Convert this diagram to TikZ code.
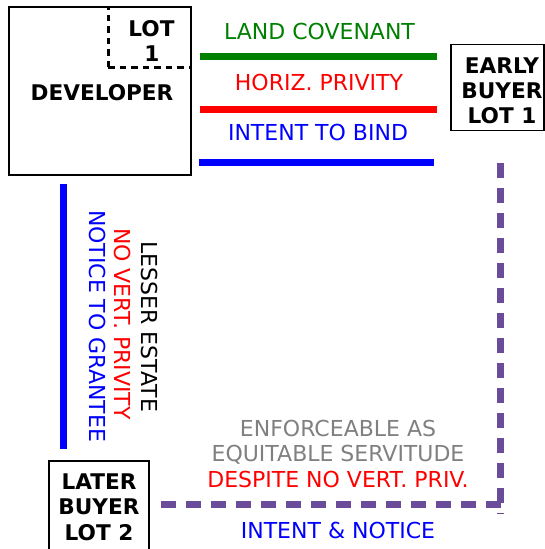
\documentclass[tikz,border=0pt]{standalone}
\usepackage{fontspec}
\setmainfont{DejaVu Sans}
\definecolor{cvgreen}{RGB}{0,128,0}
\definecolor{cvred}{RGB}{255,0,0}
\definecolor{cvblue}{RGB}{0,0,255}
\definecolor{cvgray}{RGB}{128,128,128}
\definecolor{cvpurple}{RGB}{106,76,154}
\begin{document}
\begin{tikzpicture}[x=1pt,y=-1pt,
  txt/.style={inner sep=0pt, text depth=0pt, anchor=center, font=\fontsize{22}{25}\selectfont},
  btxt/.style={txt, font=\fontsize{21.6}{25}\selectfont\bfseries},
  box/.style={draw, line width=1.3pt, inner sep=0pt},
  bar/.style={line width=7pt},
  lotline/.style={line width=3pt, dash pattern=on 6.5pt off 5pt},
  purpledash/.style={draw=cvpurple, line width=7pt, dash pattern=on 15pt off 10pt}]
\useasboundingbox (0,0) rectangle (545,549);
% boxes
\node[box, minimum width=182pt, minimum height=168pt] (dev) at (100,91) {};
\node[box, minimum width=93pt, minimum height=86pt] (early) at (497.5,87.5) {};
\node[box, minimum width=100pt, minimum height=96pt] (later) at (99,509) {};
% lot 1 inside developer
\coordinate (lotc) at (108,67);
\draw[lotline] (lotc) -- (dev.north -| lotc);
\draw[lotline] (lotc) -- (dev.east |- lotc);
\node[btxt] (lota) at (151.5,28) {LOT};
\node[btxt] (lotb) at (152,53.5) {1};
\node[btxt] (devlbl) at (102,92) {DEVELOPER};
% early buyer text
\node[btxt] (ea) at (502,66) {EARLY};
\node[btxt] (eb) at (502,90.5) {BUYER};
\node[btxt] (ec) at (502,115) {LOT 1};
% later buyer text
\node[btxt] (la) at (99,482) {LATER};
\node[btxt] (lb) at (99,507) {BUYER};
\node[btxt] (lc) at (99,532) {LOT 2};
% horizontal bars
\coordinate (g1) at (200,56); \coordinate (g2) at (437,56);
\coordinate (r1) at (200,109); \coordinate (r2) at (437,109);
\coordinate (b1) at (199,162); \coordinate (b2) at (434,162);
\draw[bar, cvgreen] (g1) -- (g2);
\draw[bar, cvred] (r1) -- (r2);
\draw[bar, cvblue] (b1) -- (b2);
\node[txt, text=cvgreen] (tland) at (319.5,31) {LAND COVENANT};
\node[txt, text=cvred] (thoriz) at (319,82) {HORIZ. PRIVITY};
\node[txt, text=cvblue] (tintent) at (318,132) {INTENT TO BIND};
% vertical blue bar
\coordinate (v1) at (63,184); \coordinate (v2) at (63,449);
\draw[bar, cvblue] (v1) -- (v2);
\node[txt, rotate=-90] (tlesser) at (150,327) {LESSER ESTATE};
\node[txt, rotate=-90, text=cvred] (tnovert) at (123,324) {NO VERT. PRIVITY};
\node[txt, rotate=-90, text=cvblue] (tnotice) at (98,326) {NOTICE TO GRANTEE};
% purple dashed path
\coordinate (p1) at (161,504.5);
\coordinate (p2) at (503,504.5);
\coordinate (p3) at (500,163);
\coordinate (p4) at (500,514);
\draw[purpledash] (p1) -- (p2);
\draw[purpledash] (p3) -- (p4);
% bottom texts
\node[txt, text=cvgray] (tenf) at (338,428) {ENFORCEABLE AS};
\node[txt, text=cvgray] (tequ) at (338,453) {EQUITABLE SERVITUDE};
\node[txt, text=cvred] (tdesp) at (338,479) {DESPITE NO VERT. PRIV.};
\node[txt, text=cvblue] (tin) at (338,530) {INTENT \& NOTICE};
\end{tikzpicture}
\end{document}
